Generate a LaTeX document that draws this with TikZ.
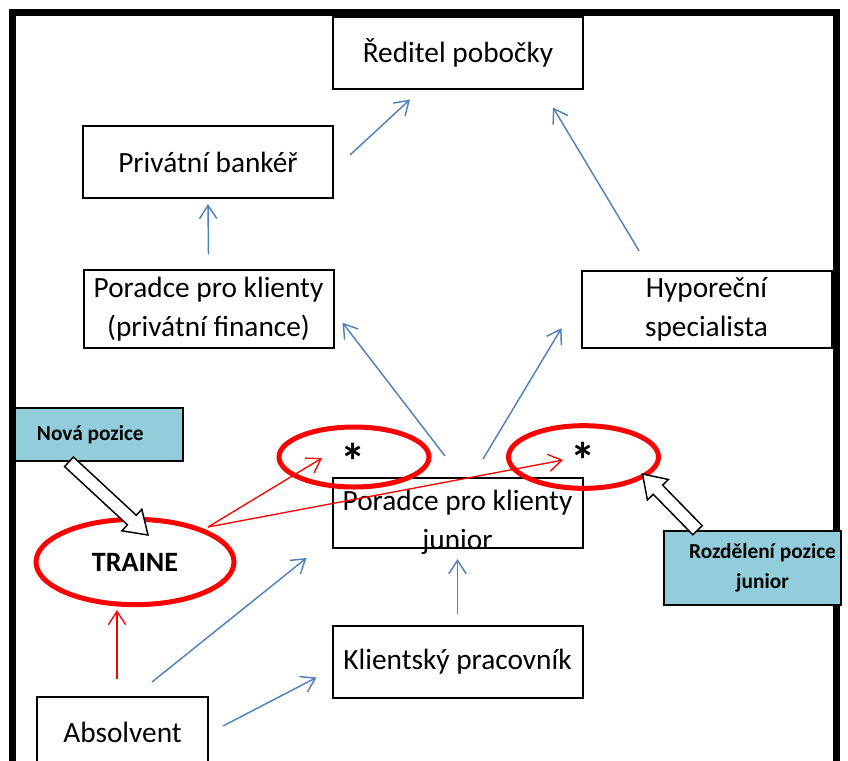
\documentclass[tikz,border=0pt]{standalone}
\usepackage{fontspec}
\setmainfont{Carlito}
\usetikzlibrary{positioning,calc,arrows.meta,shapes.geometric}
\definecolor{modra}{RGB}{79,129,189}
\definecolor{cervena}{RGB}{255,0,0}
\definecolor{tyrkys}{RGB}{146,205,220}

\newcommand{\dutasipka}[2]{%
  \coordinate (hb) at ($(#2)!16.5pt!(#1)$);
  \draw[line width=1.1pt,fill=white,line join=miter]
    ($(#1)!4.9pt!90:(#2)$) -- ($(hb)!4.9pt!90:(#2)$) -- ($(hb)!11pt!90:(#2)$) -- (#2)
    -- ($(hb)!11pt!-90:(#2)$) -- ($(hb)!4.9pt!-90:(#2)$) -- ($(#1)!4.9pt!-90:(#2)$) -- cycle;
}
\newcommand{\hvezdicka}{\raisebox{-0.32em}[0.45em][0pt]{*}}

\begin{document}
\begin{tikzpicture}[x=0.75pt,y=-0.75pt,
  box/.style={draw,line width=1.5pt,fill=white,align=center,inner sep=0pt,
    minimum width=187.5pt,minimum height=54pt,font=\fontsize{22}{29}\selectfont},
  note/.style={draw,line width=1.2pt,fill=tyrkys,align=center,inner sep=0pt,
    font=\bfseries\fontsize{16}{22.5}\selectfont},
  oval/.style={ellipse,draw=cervena,line width=3.75pt,inner sep=0pt},
  flow/.style={modra,line width=1.1pt,-{Straight Barb[length=10pt,width=13pt]}},
  redflow/.style={cervena,line width=1pt,-{Straight Barb[length=10pt,width=13pt]}},
  hvezda/.style={inner sep=0pt,font=\bfseries\fontsize{38}{38}\selectfont}]
\useasboundingbox (0,0) rectangle (848,760);
\draw[line width=5.25pt,line join=miter] (12.5,780) -- (12.5,12.5) -- (836.5,12.5) -- (836.5,780);

\node[box] (reditel) at (458,52.5) {Ředitel pobočky};
\node[box] (bank) at (208,162) {Privátní bankéř};
\node[box,minimum height=58pt] (porpriv) at (208.5,309) {Poradce pro klienty\\(privátní finance)};
\node[box,minimum height=58pt] (hypo) at (706.5,309.5) {Hyporeční\\specialista};
\node[box,minimum height=52.5pt] (junior) at (457.5,513) {};
\node[align=center,font=\fontsize{22}{29}\selectfont] (juniortxt) at (457.5,522) {Poradce pro klienty\\junior};
\node[box] (klient) at (457.5,661.5) {Klientský pracovník};
\node[box,minimum width=128.25pt,minimum height=52.5pt] (absol) at (122.5,732) {Absolvent};

\draw[flow] ($(bank.east)+(16,-7)$) -- ($(reditel.south)+(-48,10)$);
\draw[flow] ($(hypo.north)+(-67.5,-19)$) -- ($(reditel.south)+(95,18)$);
\draw[flow] ($(porpriv.north)+(0,-15)$) -- ($(bank.south)+(0,5)$);
\draw[flow] ($(junior.north)+(-12.5,-21)$) -- ($(porpriv.south east)+(8,-26)$);
\draw[flow] ($(junior.north)+(25.5,-18)$) -- ($(hypo.south west)+(-19,-21)$);
\draw[flow] ($(klient.north)+(0,-11)$) -- ($(junior.south)+(0,10)$);
\draw[flow] ($(absol.north)+(29.5,-14)$) -- ($(junior.south west)+(-25,9)$);
\draw[flow] ($(absol.east)+(14,-6)$) -- ($(klient.south west)+(-15,-21)$);

\node[oval,minimum width=148.5pt,minimum height=64pt,font=\bfseries\fontsize{21}{21}\selectfont] (traine) at (135,562) {TRAINE};
\node[oval,minimum width=112.5pt,minimum height=45pt] (hv1) at (354,457) {};
\node[oval,minimum width=112.5pt,minimum height=47pt] (hv2) at (583.5,457) {};
\node[hvezda] (h1) at (353,452) {\hvezdicka};
\node[hvezda] (h2) at (583,451) {\hvezdicka};

\draw[redflow] ($(absol.north)+(-5.5,-17)$) -- ($(traine.south)+(-18,3)$);
\draw[redflow] ($(traine)+(73,-35)$) -- ($(hv1)+(-32,1)$);
\draw[redflow] ($(traine)+(73,-35)$) -- ($(hv2)+(-20.5,3)$);

\node[note,minimum width=126pt,minimum height=39.75pt] (nova) at (99,434.5) {Nová pozice\hspace*{13pt}};
\node[note,minimum width=132.75pt,minimum height=55.5pt] (rozd) at (752.5,568) {\hspace*{15pt}Rozdělení pozice\\\hspace*{15pt}junior};

\coordinate (nz) at ($(nova.south)+(-30,0)$);
\coordinate (nk) at ($(traine)+(13,-27)$);
\dutasipka{nz}{nk}
\coordinate (rz) at ($(rozd.north)+(-55,0)$);
\coordinate (rk) at ($(hv2)+(59,17)$);
\dutasipka{rz}{rk}
\end{tikzpicture}
\end{document}
